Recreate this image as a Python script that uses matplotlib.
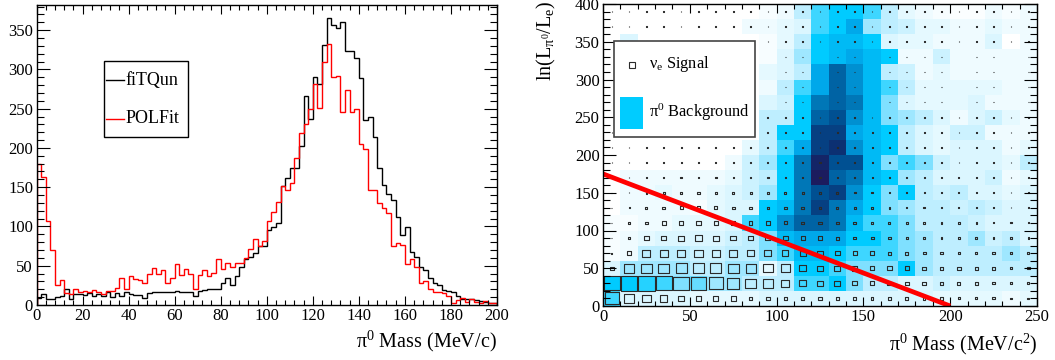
import numpy as np
import matplotlib
matplotlib.use('Agg')
import matplotlib.pyplot as plt
from matplotlib.colors import LinearSegmentedColormap
from matplotlib.patches import Rectangle
from matplotlib.lines import Line2D
from matplotlib.collections import PatchCollection
from matplotlib.ticker import MultipleLocator

plt.rcParams['font.family'] = ['Liberation Serif', 'DejaVu Serif']
plt.rcParams['mathtext.fontset'] = 'custom'
plt.rcParams['mathtext.rm'] = 'Liberation Serif'
plt.rcParams['mathtext.it'] = 'Liberation Serif:italic'
plt.rcParams['mathtext.bf'] = 'Liberation Serif:bold'
plt.rcParams['mathtext.default'] = 'rm'

# ---------------- data: left panel (pi0 mass, 2 MeV bins, 0-200) ----------------
mass_range = (0, 200)
mass_nbins = 100
fitqun = [9, 14, 8, 8, 10, 12, 21, 8, 14, 14,
          13, 15, 11, 14, 11, 16, 10, 15, 12, 16,
          14, 13, 13, 9, 15, 16, 16, 16, 16, 17,
          18, 17, 16, 16, 12, 18, 19, 21, 21, 21,
          28, 35, 26, 37, 49, 59, 61, 66, 75, 75,
          95, 99, 105, 151, 162, 175, 175, 203, 266, 237,
          290, 281, 331, 365, 357, 353, 360, 324, 324, 314,
          289, 236, 240, 214, 174, 153, 141, 134, 112, 89,
          99, 68, 61, 49, 45, 34, 28, 25, 19, 18,
          17, 11, 8, 8, 8, 6, 5, 4, 3, 2]
polfit = [180, 163, 107, 70, 26, 32, 15, 14, 20, 17,
          18, 17, 19, 17, 14, 18, 18, 22, 34, 20,
          37, 33, 32, 28, 39, 47, 40, 44, 28, 35,
          52, 38, 46, 40, 21, 38, 44, 37, 41, 59,
          46, 53, 49, 53, 54, 60, 71, 84, 75, 81,
          107, 119, 131, 152, 146, 155, 187, 219, 230, 250,
          281, 251, 310, 332, 290, 291, 246, 274, 246, 250,
          205, 199, 147, 147, 130, 124, 117, 75, 79, 76,
          52, 59, 49, 28, 31, 20, 17, 17, 15, 11,
          3, 6, 9, 4, 8, 4, 3, 5, 3, 2]
series_labels = ['fiTQun', 'POLFit']

# ---------------- data: right panel (2D, 10 MeV x 20 bins) ----------------
x2_range = (0, 250)
x2_nbins = 25
y2_range = (0, 400)
y2_nbins = 20
# pi0 background intensity (rows from bottom y=0-20 upward), 0 = none, 10 = max
background = [
    [4.5, 2, 2, 2, 2, 1.5, 1.5, 1.5, 1.5, 2, 2, 2, 2, 2, 2, 2, 2, 2, 2, 1.5, 1.5, 1.5, 1.5, 1, 1.5],
    [5, 5, 4.7, 4.5, 4, 4.2, 3.5, 3.5, 3, 3, 3, 4.5, 4.5, 5, 4, 3, 3, 2, 2, 2.5, 2, 2, 2, 2, 2],
    [2, 3.5, 3.5, 3.5, 3.5, 3, 3, 3.5, 3.5, 1.5, 3, 5, 5, 4.5, 4, 4, 4, 5, 3.5, 3, 3, 3, 3, 3, 3],
    [0.5, 1, 3, 3, 3, 2.5, 2.5, 3, 3, 4, 4.5, 5.5, 5.5, 5, 4.5, 4.5, 4.5, 4, 3.5, 3, 3, 3, 3, 3.5, 3],
    [0.5, 1, 1.5, 2, 2, 2, 2, 2.5, 3, 4, 5.5, 6, 6, 6, 5, 5, 4.5, 4, 3.5, 3, 3, 3.5, 2.5, 3, 2],
    [0.5, 0.5, 1, 1, 1.5, 1.5, 1.5, 2, 4.5, 5, 6.5, 7.5, 7.5, 7, 5.5, 4.5, 4.5, 4, 3, 3, 3, 2.5, 2, 2, 2],
    [0, 1, 1, 1, 1, 0.5, 1.5, 2, 2, 5, 5.5, 7, 8.5, 7, 6, 5, 4, 3.5, 3, 3, 2.5, 3, 2.5, 2, 2],
    [0, 1, 1, 1.5, 1, 1, 1.5, 2, 2.5, 3.5, 5, 7, 8, 8.5, 6.5, 5, 4, 5, 3, 2.5, 3, 2, 2, 1.5, 2],
    [0, 1, 1, 1, 1, 1, 1, 1.5, 2.5, 3, 5, 7, 10, 7.5, 7, 5.5, 5, 3.5, 3, 2, 2, 2, 2.5, 1, 1.5],
    [0, 0, 0, 0, 0, 0, 0, 1, 2.5, 3.5, 5, 7, 9.5, 8, 8, 5.5, 4, 4.5, 4, 2.5, 2, 2, 2, 1.5, 3],
    [0, 0, 0, 0, 0, 0, 0, 0, 1.5, 3, 4.5, 6, 8.5, 9, 6.5, 5.5, 5, 3, 2, 1.5, 2, 2, 2, 1, 1.5],
    [0, 0, 0, 0, 0, 0, 0, 0, 0, 3, 5, 5, 8.5, 8.5, 6, 5.5, 5, 3, 2, 1.5, 2.5, 2.5, 1, 1, 1],
    [0, 0, 0, 0, 0, 0, 0, 0, 0, 3, 3, 5, 7.5, 8, 6.5, 5.5, 4, 3.5, 3, 2, 1, 2, 2.5, 1.5, 1],
    [0, 0, 0, 0, 0, 0, 0, 0, 0, 2, 2.5, 5, 7, 7.5, 7, 5.5, 4, 2, 1.5, 1.5, 1.5, 2, 1, 1, 1],
    [0, 0, 0, 0, 0, 0, 0, 0, 0, 1, 3, 4.5, 6, 7.5, 6.5, 5.5, 4.5, 3, 1.5, 1.5, 1.5, 1.5, 1.5, 1, 1],
    [0, 0, 0, 0, 0, 0, 0, 0, 0, 1.5, 2, 3, 6, 7.5, 6.5, 5.5, 3, 2.5, 1, 1.5, 1, 1, 1, 1, 1],
    [0, 0, 0, 0, 0, 0, 0, 0, 0, 0.5, 2, 3.5, 5, 5.5, 6, 5.5, 5, 1, 1, 2.5, 1, 1, 1, 1, 1],
    [0, 2, 0, 0, 0, 0, 0, 0, 0, 0.5, 1.5, 3, 5, 5.5, 5.5, 5, 2, 1.5, 1.5, 1, 1, 1, 2, 0, 1],
    [0, 0, 0, 0, 0, 0, 0, 0, 1, 1, 1.5, 2, 4.5, 5, 6, 3.5, 3, 2.5, 1.5, 1.5, 1, 1, 1.5, 1, 1],
    [0, 0, 0, 0, 0, 0, 0, 0, 0, 0.5, 1, 3, 4.5, 5, 5, 4.5, 3, 1.5, 1, 0.5, 0.3, 0.3, 1, 0.5, 1],
]
# nu_e signal box size (fraction of cell), rows from bottom upward
signal = [
    [0.80, 0.60, 0.50, 0.42, 0.38, 0.33, 0.29, 0.28, 0.22, 0.20, 0.19, 0.18, 0.18, 0.17, 0.17, 0.16, 0.15, 0.15, 0.14, 0.14, 0.13, 0.13, 0.13, 0.12, 0.12],
    [0.93, 0.96, 0.95, 0.92, 0.90, 0.85, 0.80, 0.70, 0.62, 0.55, 0.48, 0.38, 0.34, 0.33, 0.28, 0.27, 0.24, 0.21, 0.20, 0.18, 0.17, 0.16, 0.15, 0.14, 0.13],
    [0.22, 0.58, 0.62, 0.62, 0.64, 0.65, 0.64, 0.62, 0.58, 0.55, 0.50, 0.40, 0.36, 0.35, 0.30, 0.27, 0.25, 0.24, 0.22, 0.20, 0.20, 0.18, 0.17, 0.15, 0.14],
    [0.08, 0.25, 0.45, 0.48, 0.48, 0.48, 0.48, 0.45, 0.42, 0.40, 0.36, 0.33, 0.30, 0.27, 0.25, 0.22, 0.20, 0.18, 0.17, 0.15, 0.15, 0.14, 0.13, 0.12, 0.10],
    [0.05, 0.12, 0.25, 0.30, 0.33, 0.35, 0.33, 0.32, 0.30, 0.28, 0.26, 0.24, 0.22, 0.20, 0.18, 0.17, 0.15, 0.13, 0.12, 0.11, 0.10, 0.10, 0.09, 0.08, 0.08],
    [0.04, 0.08, 0.18, 0.22, 0.24, 0.25, 0.23, 0.23, 0.22, 0.21, 0.20, 0.19, 0.18, 0.16, 0.15, 0.14, 0.12, 0.11, 0.10, 0.09, 0.09, 0.08, 0.07, 0.07, 0.06],
    [0.03, 0.06, 0.12, 0.15, 0.18, 0.18, 0.18, 0.17, 0.16, 0.15, 0.15, 0.14, 0.14, 0.13, 0.12, 0.10, 0.09, 0.08, 0.08, 0.07, 0.07, 0.06, 0.06, 0.05, 0.05],
    [0.03, 0.05, 0.10, 0.12, 0.13, 0.13, 0.13, 0.13, 0.12, 0.12, 0.12, 0.11, 0.10, 0.10, 0.09, 0.08, 0.07, 0.07, 0.06, 0.06, 0.05, 0.05, 0.05, 0.04, 0.04],
    [0.02, 0.04, 0.06, 0.07, 0.08, 0.08, 0.08, 0.08, 0.08, 0.08, 0.08, 0.08, 0.07, 0.07, 0.07, 0.06, 0.06, 0.05, 0.05, 0.05, 0.05, 0.04, 0.04, 0.04, 0.04],
    [0.02, 0.04, 0.05, 0.06, 0.06, 0.06, 0.06, 0.06, 0.06, 0.06, 0.06, 0.06, 0.06, 0.06, 0.06, 0.05, 0.05, 0.05, 0.05, 0.05, 0.04, 0.04, 0.04, 0.04, 0.04],
    [0.02, 0.04, 0.05, 0.05, 0.05, 0.05, 0.05, 0.05, 0.05, 0.05, 0.05, 0.05, 0.05, 0.05, 0.05, 0.05, 0.05, 0.05, 0.04, 0.04, 0.04, 0.04, 0.04, 0.04, 0.04],
    [0.02, 0.04, 0.05, 0.05, 0.05, 0.05, 0.05, 0.05, 0.05, 0.05, 0.05, 0.05, 0.05, 0.05, 0.05, 0.05, 0.04, 0.04, 0.04, 0.04, 0.04, 0.04, 0.04, 0.04, 0.04],
    [0.02, 0.04, 0.04, 0.05, 0.05, 0.05, 0.05, 0.05, 0.05, 0.05, 0.05, 0.05, 0.05, 0.05, 0.05, 0.04, 0.04, 0.04, 0.04, 0.04, 0.04, 0.04, 0.04, 0.04, 0.04],
    [0.02, 0.04, 0.04, 0.04, 0.04, 0.04, 0.04, 0.04, 0.04, 0.04, 0.04, 0.04, 0.04, 0.04, 0.04, 0.04, 0.04, 0.04, 0.04, 0.04, 0.04, 0.04, 0.04, 0.04, 0.04],
    [0.02, 0.04, 0.04, 0.04, 0.04, 0.04, 0.04, 0.04, 0.04, 0.04, 0.04, 0.04, 0.04, 0.04, 0.04, 0.04, 0.04, 0.04, 0.04, 0.04, 0.04, 0.04, 0.04, 0.04, 0.04],
    [0.02, 0.04, 0.04, 0.04, 0.04, 0.04, 0.04, 0.04, 0.04, 0.04, 0.04, 0.04, 0.04, 0.04, 0.04, 0.04, 0.04, 0.04, 0.04, 0.04, 0.04, 0.04, 0.04, 0.04, 0.04],
    [0.02, 0.04, 0.04, 0.04, 0.04, 0.04, 0.04, 0.04, 0.04, 0.04, 0.04, 0.04, 0.04, 0.04, 0.04, 0.04, 0.04, 0.04, 0.04, 0.04, 0.04, 0.04, 0.04, 0.04, 0.04],
    [0.02, 0.04, 0.04, 0.04, 0.04, 0.04, 0.04, 0.04, 0.04, 0.04, 0.04, 0.04, 0.04, 0.04, 0.04, 0.04, 0.04, 0.04, 0.04, 0.04, 0.04, 0.04, 0.04, 0.04, 0.04],
    [0.02, 0.04, 0.04, 0.04, 0.04, 0.04, 0.04, 0.04, 0.04, 0.04, 0.04, 0.04, 0.04, 0.04, 0.04, 0.04, 0.04, 0.04, 0.04, 0.04, 0.04, 0.04, 0.04, 0.04, 0.04],
    [0.02, 0.04, 0.04, 0.04, 0.04, 0.04, 0.04, 0.04, 0.04, 0.04, 0.04, 0.04, 0.04, 0.04, 0.04, 0.04, 0.04, 0.04, 0.04, 0.04, 0.04, 0.04, 0.04, 0.04, 0.04],
]
cut_x = [0, 200]
cut_y = [175, 0]
legend2_labels = [r'$\nu_e$ Signal', r'$\pi^0$ Background']

# ---------------- figure ----------------
W, H = 1055, 360
fig = plt.figure(figsize=(W / 100, H / 100), dpi=100)


def fx(px):
    return px / W


def fy(py):
    return 1 - py / H


def style_axes(ax, xmaj, xmin, ymaj, ymin, ylen):
    ax.xaxis.set_major_locator(MultipleLocator(xmaj))
    ax.xaxis.set_minor_locator(MultipleLocator(xmin))
    ax.yaxis.set_major_locator(MultipleLocator(ymaj))
    ax.yaxis.set_minor_locator(MultipleLocator(ymin))
    ax.tick_params(which='both', direction='in', top=True, right=True,
                   labelsize=12, width=0.8, color='black')
    ax.tick_params(axis='x', which='major', length=6.5, pad=2)
    ax.tick_params(axis='x', which='minor', length=3.3)
    ax.tick_params(axis='y', which='major', length=ylen, pad=2.5)
    ax.tick_params(axis='y', which='minor', length=ylen / 2)
    for s in ax.spines.values():
        s.set_linewidth(1.0)
        s.set_color('black')


# ---- left panel ----
ax1 = fig.add_axes([fx(36.5), fy(305), fx(497) - fx(36.5), fy(5) - fy(305)])
edges = np.linspace(mass_range[0], mass_range[1], mass_nbins + 1)
ax1.stairs(fitqun, edges, color='black', lw=1.0)
ax1.stairs(polfit, edges, color='red', lw=1.0)
ax1.set_xlim(*mass_range)
ax1.set_ylim(0, 382)
style_axes(ax1, 20, 4, 50, 10, 9.7)
fig.text(fx(497), fy(341), r'$\pi^0$ Mass (MeV/c)', ha='right', va='center', fontsize=14.5)

# left legend
fig.add_artist(Rectangle((fx(104), fy(137)), fx(188) - fx(104), fy(61) - fy(137),
                         transform=fig.transFigure, facecolor='white', edgecolor='black', lw=1.0))
for lab, col, py in zip(series_labels, ['black', 'red'], [80, 119]):
    fig.add_artist(Line2D([fx(106), fx(124)], [fy(py), fy(py)], transform=fig.transFigure,
                          color=col, lw=1.0))
    fig.text(fx(125.5), fy(py), lab, ha='left', va='center', fontsize=13)

# ---- right panel ----
ax2 = fig.add_axes([fx(603), fy(306), fx(1037) - fx(603), fy(4) - fy(306)])
cmap = LinearSegmentedColormap.from_list('pi0', [
    (0.0, '#ffffff'), (0.1, '#effbff'), (0.2, '#dbf6ff'), (0.3, '#bdeeff'),
    (0.4, '#7fe0ff'), (0.5, '#00ccff'), (0.6, '#00a8ea'), (0.7, '#0078b8'),
    (0.8, '#005092'), (0.9, '#0c3072'), (1.0, '#1c1c5e')])
xe = np.linspace(x2_range[0], x2_range[1], x2_nbins + 1)
ye = np.linspace(y2_range[0], y2_range[1], y2_nbins + 1)
ax2.pcolormesh(xe, ye, np.array(background), cmap=cmap, vmin=0, vmax=10, shading='flat')

sig = np.array(signal)
dx = xe[1] - xe[0]
dy = ye[1] - ye[0]
boxes = []
for j in range(y2_nbins):
    for i in range(x2_nbins):
        f = sig[j, i]
        cx = (xe[i] + xe[i + 1]) / 2
        cy = (ye[j] + ye[j + 1]) / 2
        boxes.append(Rectangle((cx - f * dx / 2, cy - f * dy / 2), f * dx, f * dy))
ax2.add_collection(PatchCollection(boxes, facecolor='none', edgecolor='#2a2a2a', lw=0.8))
ax2.plot(cut_x, cut_y, color='red', lw=3.4, solid_capstyle='butt')
ax2.set_xlim(*x2_range)
ax2.set_ylim(*y2_range)
style_axes(ax2, 50, 10, 50, 10, 9.4)
fig.text(fx(1037), fy(344), r'$\pi^0$ Mass (MeV/c$^2$)', ha='right', va='center', fontsize=14.5)
fig.text(fx(546), fy(1), r'$\ln(L_{\pi^0}/L_e)$', rotation=90, ha='center', va='top', fontsize=14.5)

# right legend
fig.add_artist(Rectangle((fx(614), fy(137)), fx(755) - fx(614), fy(41) - fy(137),
                         transform=fig.transFigure, facecolor='white', edgecolor='#444444', lw=1.2, zorder=5))
fig.add_artist(Line2D([fx(632)], [fy(65)], transform=fig.transFigure, marker='s', markersize=4.5,
                      mfc='none', mec='#2a2a2a', mew=0.8, ls='none', zorder=6))
fig.add_artist(Rectangle((fx(620), fy(129)), fx(643) - fx(620), fy(97) - fy(129),
                         transform=fig.transFigure, facecolor='#00ccff', edgecolor='none', zorder=6))
fig.text(fx(649), fy(64), legend2_labels[0], ha='left', va='center', fontsize=11.8, zorder=7)
fig.text(fx(649), fy(112), legend2_labels[1], ha='left', va='center', fontsize=11.8, zorder=7)

fig.savefig('out.png', dpi=100)
